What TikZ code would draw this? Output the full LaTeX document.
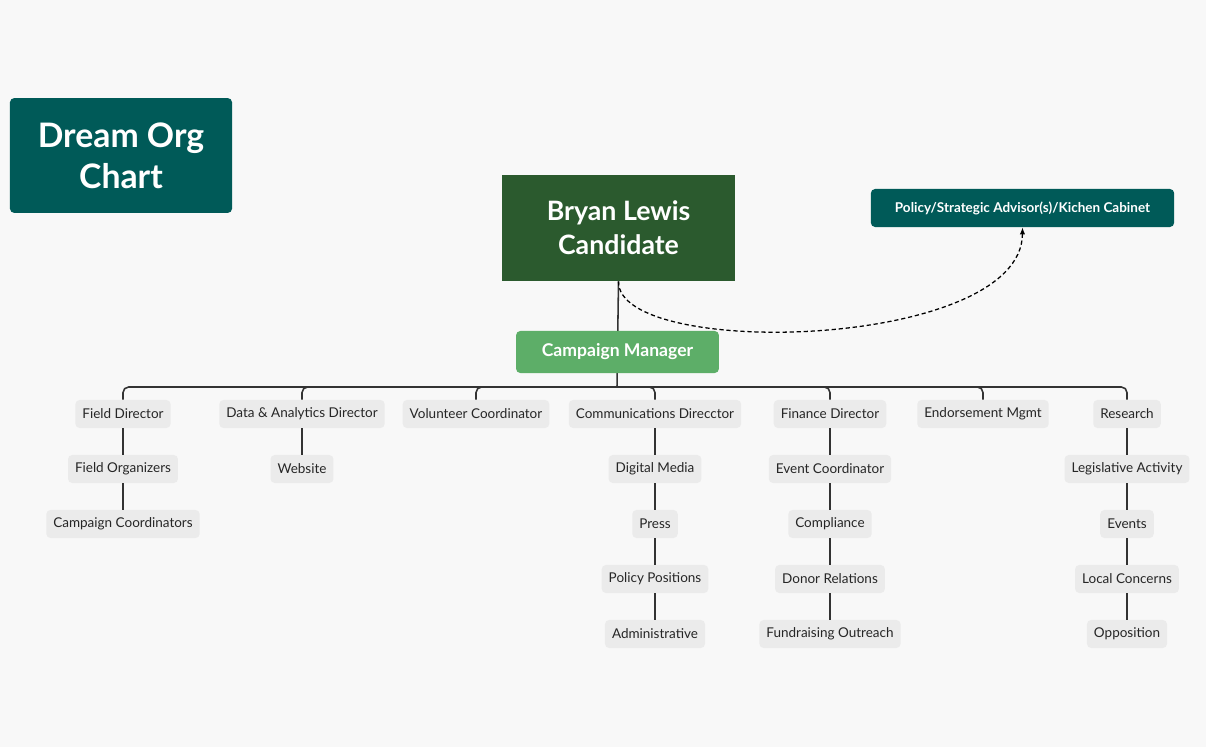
\documentclass[tikz,border=0pt]{standalone}
\usepackage{fontspec}
\setmainfont{Lato}
\usetikzlibrary{arrows.meta,positioning,calc}
\definecolor{bgc}{HTML}{F8F8F8}
\definecolor{teal}{HTML}{005A58}
\definecolor{cand}{HTML}{2B5A2E}
\definecolor{mgr}{HTML}{5DAE68}
\definecolor{leaf}{HTML}{EBEBEB}
\definecolor{wire}{HTML}{333333}
\tikzset{
  leaf/.style = {fill=leaf, rounded corners=3pt, inner xsep=5pt, minimum height=0.7cm,
                 font=\fontsize{9.6}{11}\selectfont, text=black!85},
  wire/.style = {draw=wire, line width=1.1pt, rounded corners=4pt},
  title/.style = {fill=teal, text=white, rounded corners=3pt, align=center,
                  font=\fontsize{24}{29}\selectfont\bfseries}
}
\begin{document}
\begin{tikzpicture}[x=0.025cm, y=-0.025cm]

\fill[bgc] (0,0) rectangle (1206,747);
\useasboundingbox (0,0) rectangle (1206,747);

\node[title, minimum width=5.55cm, minimum height=2.87cm] (T) at (121,155.5) {Dream Org\\Chart};

\node[fill=cand, text=white, align=center, minimum width=5.82cm, minimum height=2.65cm,
      font=\fontsize{19}{24}\selectfont\bfseries] (C) at (618.5,228) {Bryan Lewis\\Candidate};

\node[fill=teal, text=white, rounded corners=3pt, minimum width=7.58cm, minimum height=0.95cm,
      font=\fontsize{9.6}{11}\selectfont\bfseries] (P) at (1022.5,208) {Policy/Strategic Advisor(s)/Kichen Cabinet};

\coordinate (bus) at (617,387);
\draw[wire] (C.south) -- (bus);

\node[fill=mgr, text=white, rounded corners=3pt, minimum width=5.07cm, minimum height=1.05cm,
      font=\fontsize{12.5}{15}\selectfont\bfseries] (M) at (617.5,352) {Campaign Manager};

\draw[densely dashed, line width=0.9pt, -{Latex[length=5pt]}]
  (C.south) .. controls (617,360) and (1022,350) .. (P.south);

% directors
\foreach \n/\x/\t in {fd/123/Field Director, da/302/Data \& Analytics Director,
    vc/476/Volunteer Coordinator, cd/655/Communications Direcctor,
    fi/830/Finance Director, em/983/Endorsement Mgmt, re/1127/Research}{
  \node[leaf] (\n) at (\x,414) {\t};
  \draw[wire] (bus) -| (\n.north);
}

% staff under each director
\foreach \p/\x/\list in {
    fd/123/{Field Organizers,Campaign Coordinators},
    da/302/{Website},
    cd/655/{Digital Media,Press,Policy Positions,Administrative},
    fi/830/{Event Coordinator,Compliance,Donor Relations,Fundraising Outreach},
    re/1127/{Legislative Activity,Events,Local Concerns,Opposition}}{
  \foreach \t [count=\i, remember=\i as \j (initially 0)] in \list {
    \node[leaf] (\p\i) at (\x,414+55*\i) {\t};
    \ifnum\j=0 \draw[wire] (\p.south) -- (\p\i.north);
    \else \draw[wire] (\p\j.south) -- (\p\i.north); \fi
  }
}

\end{tikzpicture}
\end{document}
